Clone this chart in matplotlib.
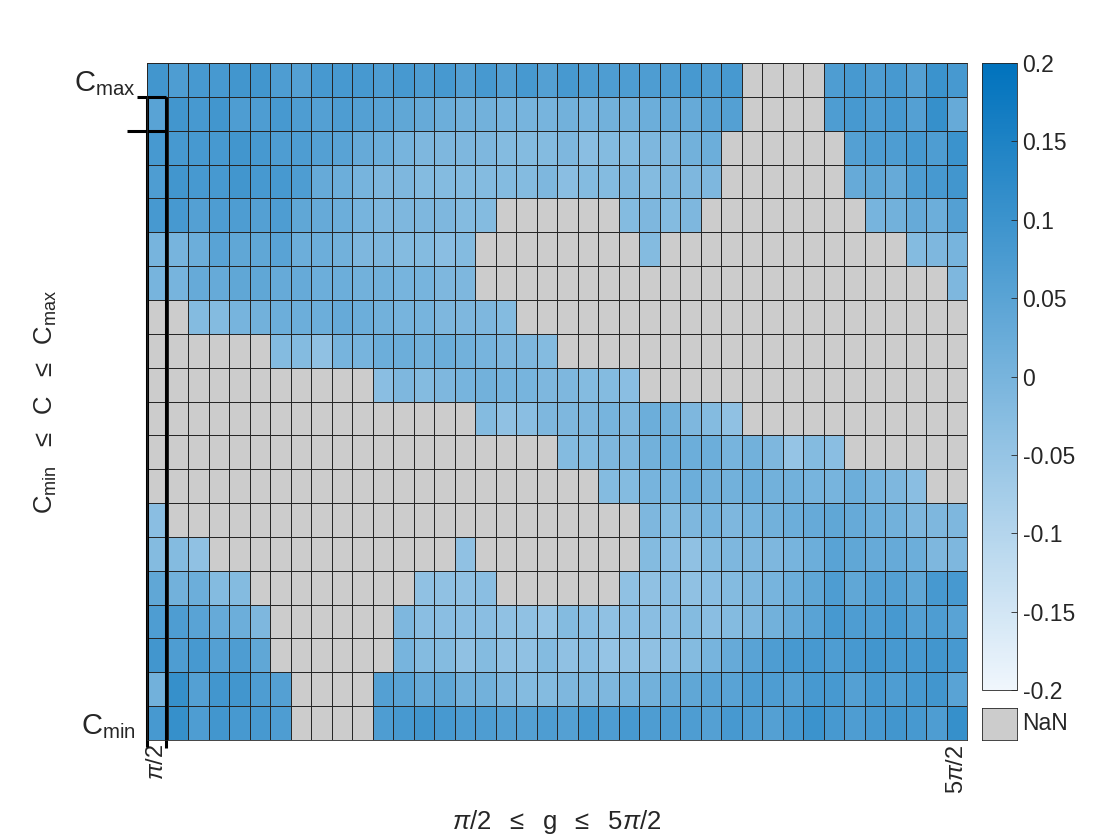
import numpy as np
import matplotlib
matplotlib.use('Agg')
import matplotlib.pyplot as plt
from matplotlib.colors import LinearSegmentedColormap, Normalize

plt.rcParams['font.family'] = ['Liberation Sans', 'DejaVu Sans']
plt.rcParams['mathtext.fontset'] = 'custom'
plt.rcParams['mathtext.rm'] = 'Liberation Sans'
plt.rcParams['mathtext.it'] = 'Liberation Sans:italic'

N = np.nan

# cell values in hundredths, top row (C_max) first, left column (pi/2) first
rows = [
    [9, 7, 8, 8, 9, 9, 7, 6, 8, 8, 8, 7, 8, 7, 8, 6, 8, 6, 8, 6,
     8, 7, 7, 7, 7, 7, 8, 7, 8, N, N, N, N, 7, 8, 7, 8, 6, 10, 8],
    [5, 9, 8, 9, 7, 7, 8, 7, 6, 7, 6, 5, 4, 3, 2, 1, 1, 0, 0, 0,
     1, 0, 1, 1, 2, 3, 3, 5, 6, N, N, N, N, 7, 8, 7, 8, 6, 11, 3],
    [8, 8, 8, 8, 9, 8, 7, 7, 6, 5, 3, 2, 0, -1, -1, -1, -1, -2, -2, -2,
     -1, -3, -2, -2, -1, -1, 1, 2, N, N, N, N, N, N, 6, 7, 7, 8, 7, 10],
    [7, 9, 8, 8, 9, 8, 8, 7, 3, 2, 0, -1, -1, -2, -2, -2, -2, -2, -2, -1,
     -3, -2, -2, -1, -2, -1, -1, -1, N, N, N, N, N, N, 3, 4, 3, 7, 8, 9],
    [8, 8, 6, 7, 7, 6, 7, 4, 3, 2, 0, -1, -1, -1, -1, -2, -2, N, N, N,
     N, N, N, -2, -1, -2, -1, N, N, N, N, N, N, N, N, 0, 1, 3, 2, 6],
    [0, 0, 2, 5, 4, 4, 5, 2, 2, 1, -1, -1, -2, -2, -3, -2, N, N, N, N,
     N, N, N, N, -2, N, N, N, N, N, N, N, N, N, N, N, N, -2, -1, 0],
    [0, 0, 3, 3, 4, 4, 3, 3, 2, 2, 1, 1, 0, 0, -1, -1, N, N, N, N]
    + [N] * 19 + [-1],
    [N, N, -2, -2, 0, 1, 2, 2, 2, 3, 2, 1, 0, 0, -1, -1, -1, -2, N, N]
    + [N] * 20,
    [N] * 6 + [-2, -2, -4, 0, 0, 2, 2, 1, 2, 1, 0, -1, -1, -2] + [N] * 20,
    [N] * 11 + [-3, -1, -2, -1, 0, 1, 0, 0, -1]
    + [-1, -2, -2, -3] + [N] * 16,
    [N] * 16 + [-2, -4, -3, -1]
    + [-1, -1, 0, -1, 2, 1, -1, -2, -4] + [N] * 11,
    [N] * 20 + [-2, -2, -1, -1, 1, 2, 2, 2, 0, 1, -1, -5, -2, -3] + [N] * 6,
    [N] * 22 + [-2, -2, 0, 0, 2, 1, 1, 2, 1, 1, 0, 0, 2, 0, -1, -3] + [N] * 2,
    [-3] + [N] * 23 + [-1, -2, -1, 0, -1, 0, 1, 2, 3, 4, 3, 2, 1, -1, -1, -1],
    [-2, -2, -4] + [N] * 12 + [-4] + [N] * 8
    + [-2, -3, -4, -2, -1, -1, -1, 0, 2, 5, 4, 3, 3, 2, -1, -1],
    [4, 1, 2, -2, -2] + [N] * 8 + [-4, -4, -4, -3] + [N] * 6
    + [-4, -4, -3, -4, -3, -2, -1, 0, 2, 4, 7, 4, 6, 6, 4, 8, 8],
    [7, 7, 5, 3, 2, -1] + [N] * 6 + [-1, -3, -3, -3, -3, -4, -4, -5]
    + [-2, -3, -4, -3, -3, -3, -2, -3, -2, -1, 1, 3, 5, 8, 7, 7, 8, 6, 7, 5],
    [9, 7, 8, 6, 7, 4] + [N] * 6 + [0, -2, -2, -4, -2, -4, -4, -2]
    + [-4, -3, -5, -4, -4, -3, -2, 0, 3, 5, 7, 8, 8, 7, 8, 9, 8, 8, 9, 8],
    [1, 11, 6, 9, 9, 7, 6] + [N] * 4 + [6, 5, 3, 4, 1, 1, -1, -2, -2]
    + [-1, -1, -1, 0, 1, 3, 4, 5, 5, 7, 7, 6, 8, 8, 6, 8, 7, 8, 9, 5],
    [8, 11, 7, 9, 8, 8, 7] + [N] * 4 + [7, 8, 9, 8, 7, 7, 6, 6, 7]
    + [6, 8, 7, 8, 7, 7, 7, 6, 8, 7, 6, 8, 10, 8, 7, 8, 9, 8, 7, 11],
]
values = np.array(rows, dtype=float) / 100

x_ticklabels = {0: r'$\pi$/2', 39: r'5$\pi$/2'}
y_ticklabels = {0: r'$\mathrm{C_{max}}$', 19: r'$\mathrm{C_{min}}$'}
cbar_ticks = [-0.2, -0.15, -0.1, -0.05, 0, 0.05, 0.1, 0.15, 0.2]
cbar_labels = ['-0.2', '-0.15', '-0.1', '-0.05', '0', '0.05', '0.1', '0.15', '0.2']

cmap = LinearSegmentedColormap.from_list(
    'matlab_blue', [(0.94, 0.965, 0.99), (0.0, 0.447, 0.741)])
cmap.set_bad('#cccccc')
norm = Normalize(-0.2, 0.2)

fig = plt.figure(figsize=(11.2, 8.4), dpi=100)
ax = fig.add_axes([147 / 1120, 1 - 740 / 840, 820 / 1120, 677 / 840])

n_rows, n_cols = values.shape
ax.pcolormesh(np.ma.masked_invalid(values), cmap=cmap, norm=norm,
              edgecolors='#262626', linewidth=0.6)
ax.set_xlim(0, n_cols)
ax.set_ylim(n_rows, 0)
for side in ax.spines.values():
    side.set_color('#262626')
    side.set_linewidth(0.6)

ax.set_xticks([k + 0.5 for k in x_ticklabels])
ax.set_xticklabels(list(x_ticklabels.values()), rotation=90, fontsize=17,
                   color='#262626')
ax.set_yticks([k + 0.5 for k in y_ticklabels])
ax.set_yticklabels(list(y_ticklabels.values()), fontsize=21, color='#262626')
ax.tick_params(length=0)
ax.tick_params(axis='x', pad=3)
ax.tick_params(axis='y', pad=8)

ax.set_xlabel(r'$\pi$/2  $\leq$  g  $\leq$  5$\pi$/2', fontsize=18.5,
              color='#262626')
ax.xaxis.set_label_coords(0.5, -0.1)
ax.set_ylabel(r'$\mathrm{C_{min}}$  $\leq$  C  $\leq$  $\mathrm{C_{max}}$',
              fontsize=18.5, color='#262626')
ax.yaxis.set_label_coords(-0.107, 0.5)

# stray outline drawn around the first column
line_kw = dict(color='black', linewidth=2.2, clip_on=False, solid_capstyle='butt')
ax.plot([0, 0], [1, 20.2], **line_kw)
ax.plot([0.93, 0.93], [1, 20.25], **line_kw)
ax.plot([-0.5, 0.93], [1, 1], **line_kw)
ax.plot([-1.0, 0.93], [2, 2], **line_kw)

# colorbar
cax = fig.add_axes([982 / 1120, 1 - 690 / 840, 35 / 1120, 627 / 840])
sm = plt.cm.ScalarMappable(norm=norm, cmap=cmap)
cb = fig.colorbar(sm, cax=cax)
cb.set_ticks(cbar_ticks)
cb.set_ticklabels(cbar_labels)
cb.outline.set_edgecolor('#262626')
cb.outline.set_linewidth(0.6)
cax.tick_params(direction='in', length=4, width=0.6, pad=4, labelsize=16.5,
                colors='#262626')

# NaN swatch
nax = fig.add_axes([982 / 1120, 1 - 740 / 840, 35 / 1120, 32 / 840])
nax.set_facecolor('#cccccc')
nax.set_xticks([])
nax.set_yticks([])
for side in nax.spines.values():
    side.set_color('#262626')
    side.set_linewidth(0.6)
nax.text(1.15, 0.5, 'NaN', transform=nax.transAxes, va='center', ha='left',
         fontsize=16.5, color='#262626')

fig.savefig('out.png', dpi=100)
